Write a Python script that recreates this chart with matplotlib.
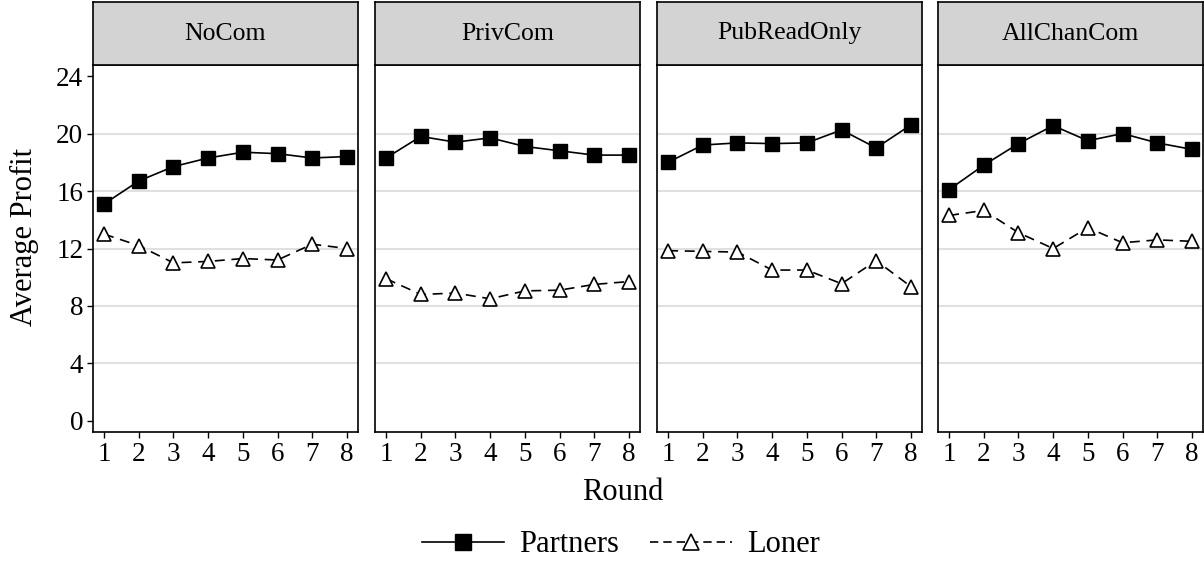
import matplotlib
matplotlib.use("Agg")
import matplotlib.pyplot as plt
from matplotlib.lines import Line2D

plt.rcParams['font.family'] = ['Liberation Serif', 'DejaVu Serif']

rounds = [1, 2, 3, 4, 5, 6, 7, 8]
panels = ["NoCom", "PrivCom", "PubReadOnly", "AllChanCom"]
partners = {
    "NoCom":       [15.1, 16.7, 17.7, 18.3, 18.7, 18.6, 18.3, 18.4],
    "PrivCom":     [18.3, 19.8, 19.4, 19.7, 19.1, 18.8, 18.5, 18.5],
    "PubReadOnly": [18.0, 19.2, 19.35, 19.3, 19.35, 20.25, 19.0, 20.6],
    "AllChanCom":  [16.1, 17.8, 19.3, 20.55, 19.5, 20.0, 19.35, 18.9],
}
loner = {
    "NoCom":       [13.0, 12.2, 11.0, 11.1, 11.3, 11.2, 12.3, 12.0],
    "PrivCom":     [9.9, 8.8, 8.9, 8.5, 9.05, 9.1, 9.5, 9.7],
    "PubReadOnly": [11.85, 11.8, 11.75, 10.5, 10.5, 9.55, 11.15, 9.35],
    "AllChanCom":  [14.3, 14.65, 13.1, 12.0, 13.45, 12.4, 12.6, 12.5],
}
yticks = [0, 4, 8, 12, 16, 20, 24]
gridlines = [4, 8, 12, 16, 20]

W, H = 1204, 563
fig = plt.figure(figsize=(W / 100, H / 100), dpi=100)

lefts = [93, 375, 657, 938]
pw = 265
top, bottom = 65, 432
strip_top = 2
tick_fs = 19.5
strip_fs = 18.5
title_fs = 22

for i, (name, L) in enumerate(zip(panels, lefts)):
    ax = fig.add_axes([L / W, 1 - bottom / H, pw / W, (bottom - top) / H])
    ax.set_ylim(-0.77, 24.77)
    ax.set_xlim(0.68, 8.32)
    ax.set_yticks(yticks)
    ax.set_xticks(rounds)
    for y in gridlines:
        ax.axhline(y, color='#e0e0e0', lw=1.5, zorder=0)
    ax.plot(rounds, partners[name], color='black', lw=1.2, marker='s',
            markersize=9.5, markerfacecolor='black', markeredgecolor='black', zorder=3)
    ax.plot(rounds, loner[name], color='black', lw=1.2, ls=(0, (6, 4)), marker='^',
            markersize=9.5, markerfacecolor='white', markeredgecolor='black',
            markeredgewidth=1.2, zorder=3)
    ax.tick_params(axis='both', direction='out', length=4, width=1, labelsize=tick_fs,
                   colors='black', pad=3)
    if i > 0:
        ax.tick_params(axis='y', left=False, labelleft=False)
    for s in ax.spines.values():
        s.set_linewidth(1.2)
    # strip
    sax = fig.add_axes([L / W, 1 - top / H, pw / W, (top - strip_top) / H])
    sax.set_facecolor('#d3d3d3')
    sax.set_xticks([])
    sax.set_yticks([])
    for s in sax.spines.values():
        s.set_linewidth(1.2)
    sax.text(0.5, 0.5, name, ha='center', va='center', fontsize=strip_fs,
             transform=sax.transAxes)

fig.text(24 / W, 1 - 237 / H, "Average Profit", rotation=90, ha='center',
         va='center', fontsize=title_fs)
fig.text(623 / W, 1 - 493 / H, "Round", ha='center', va='center', fontsize=title_fs)

handles = [
    Line2D([], [], color='black', lw=1.2, marker='s', markersize=11.5,
           markerfacecolor='black'),
    Line2D([], [], color='black', lw=1.2, ls=(0, (5, 3)), marker='^', markersize=12,
           markerfacecolor='white', markeredgewidth=1.2),
]
fig.legend(handles, ["Partners", "Loner"], loc='center', bbox_to_anchor=(621 / W, 1 - 545 / H),
           ncol=2, frameon=False, fontsize=title_fs, handlelength=2.7, handletextpad=0.5,
           columnspacing=1.0)

fig.savefig("out.png", dpi=100)
